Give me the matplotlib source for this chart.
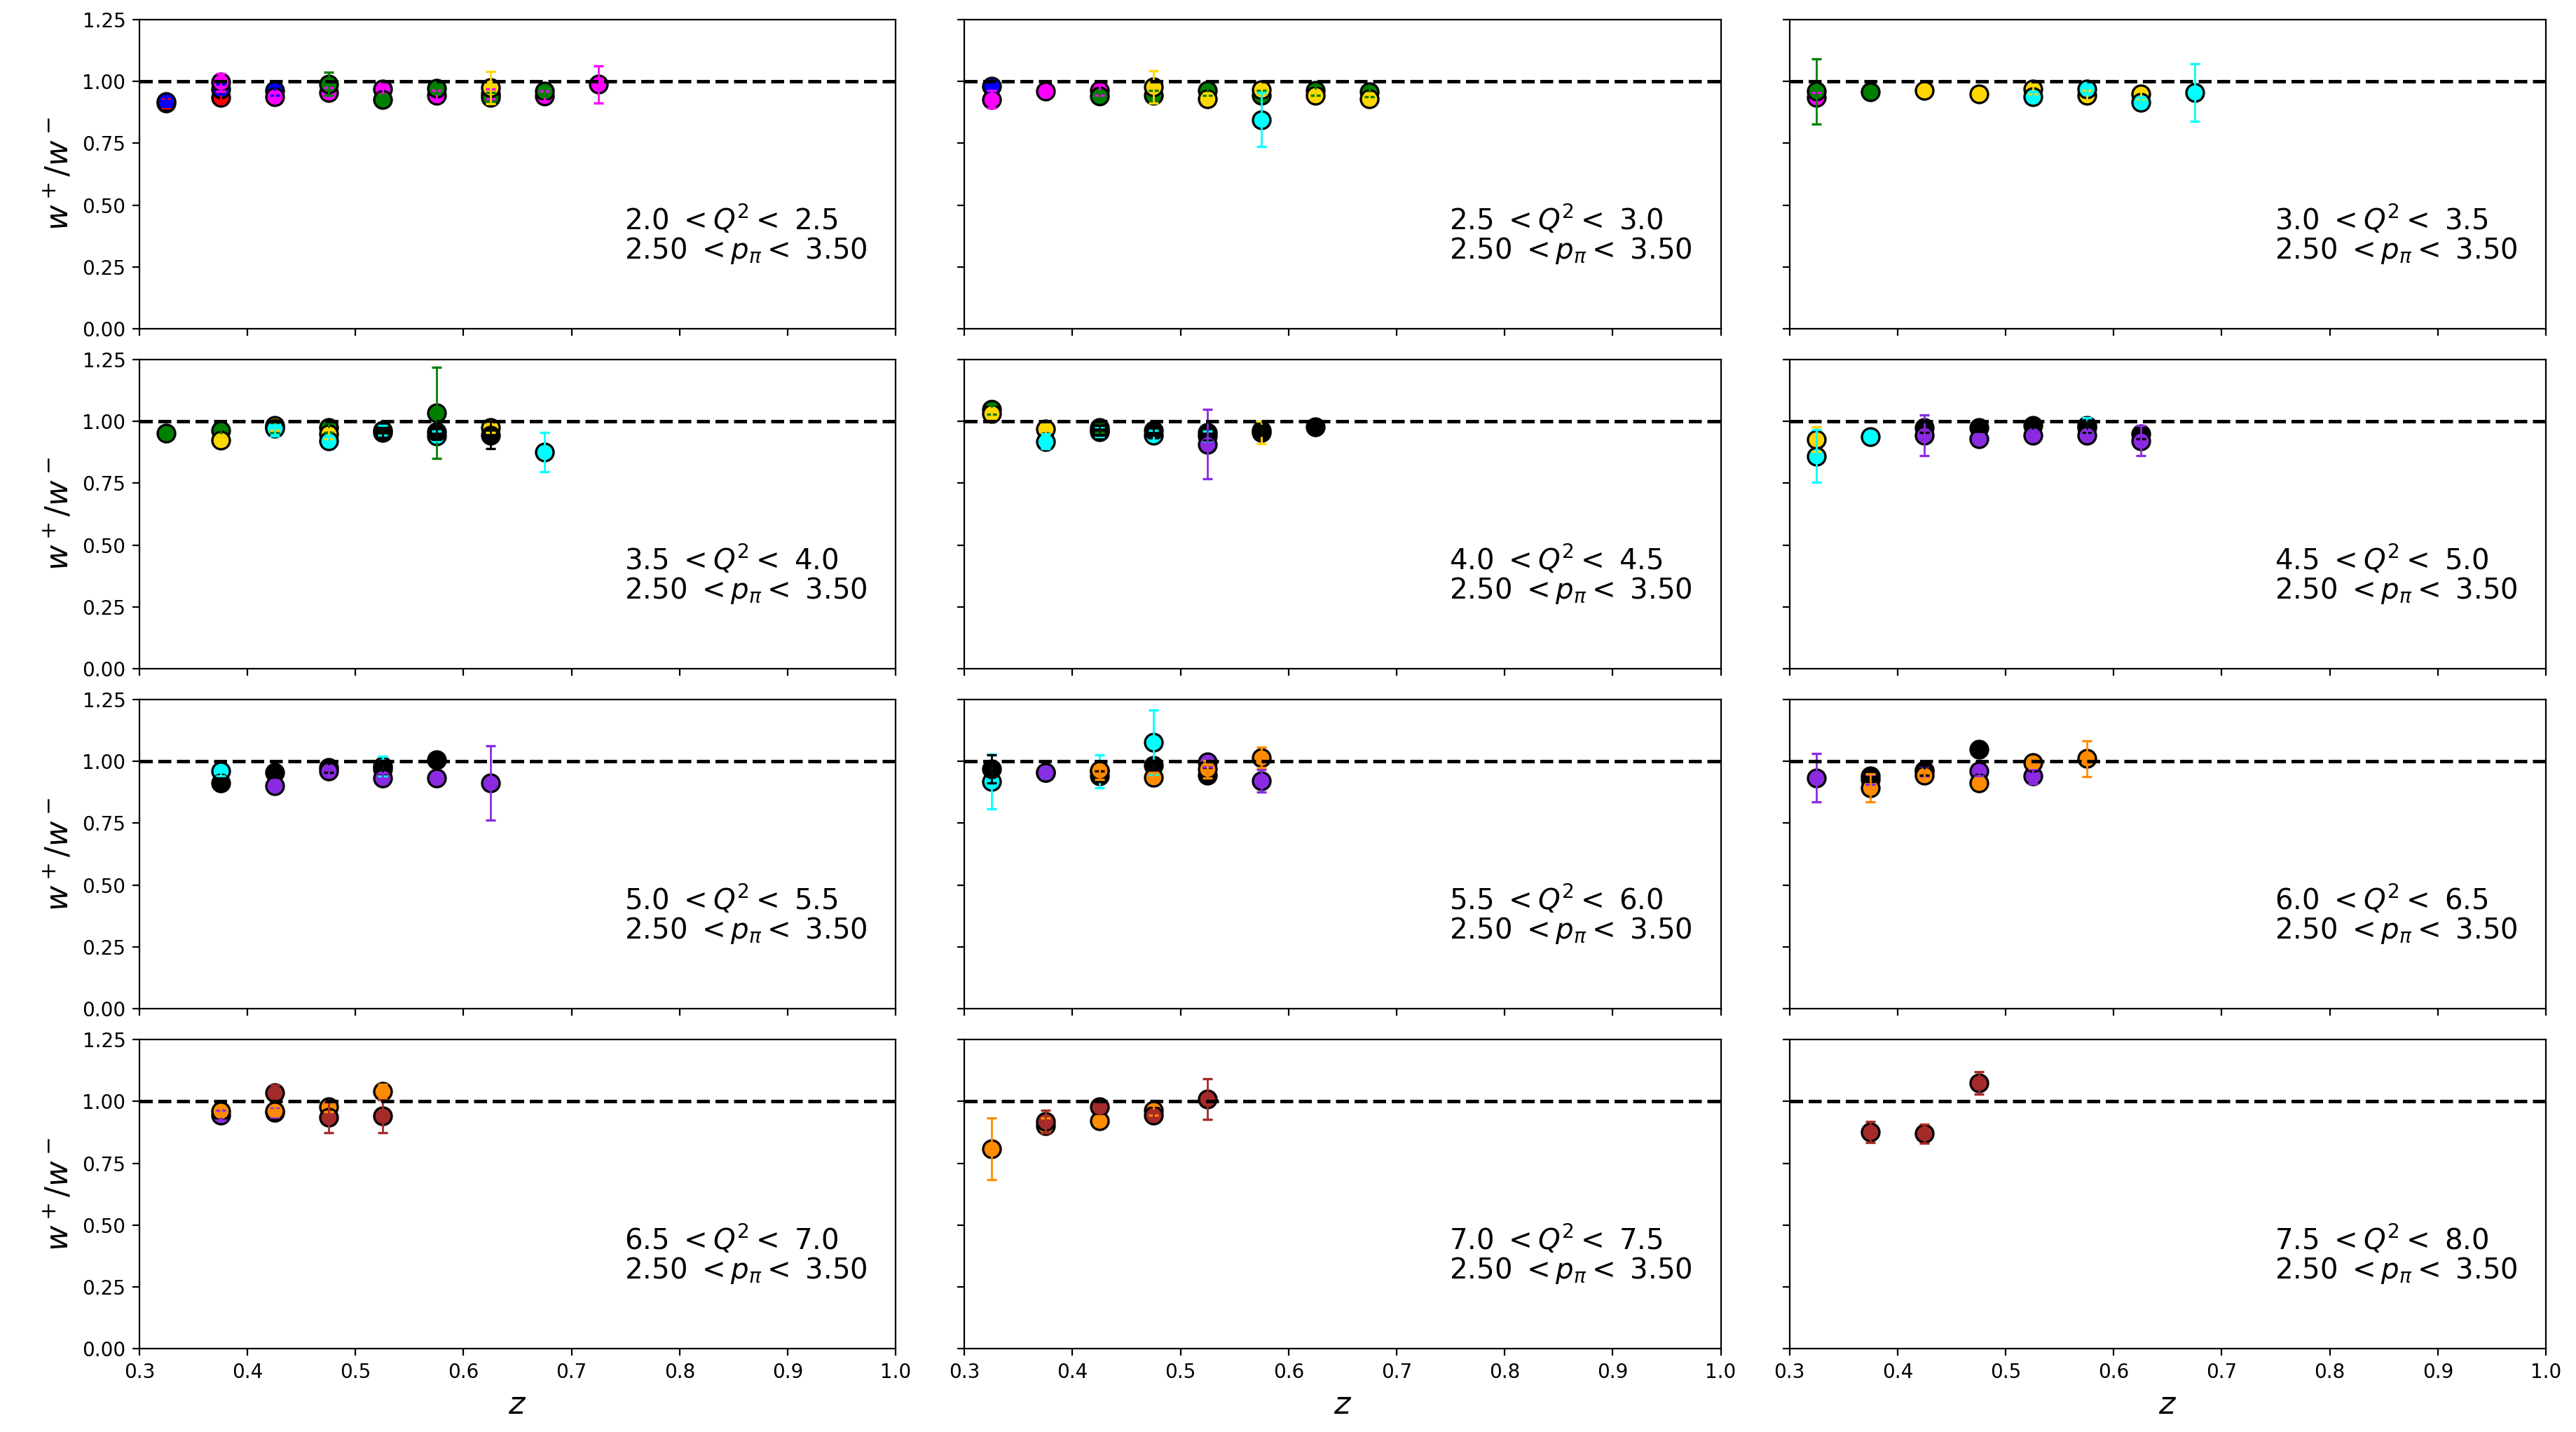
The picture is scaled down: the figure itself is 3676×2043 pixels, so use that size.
import matplotlib
matplotlib.use("Agg")
import matplotlib.pyplot as plt
import numpy as np

# ---------------- data ----------------
q2_low = [2.0, 2.5, 3.0, 3.5, 4.0, 4.5, 5.0, 5.5, 6.0, 6.5, 7.0, 7.5]
q2_high = [2.5, 3.0, 3.5, 4.0, 4.5, 5.0, 5.5, 6.0, 6.5, 7.0, 7.5, 8.0]
p_low = 2.50
p_high = 3.50

series_colors = ['red', 'blue', 'magenta', 'green', 'gold', 'cyan',
                 'black', 'blueviolet', 'darkorange', 'brown']

# each panel: list of (colour, z values, ratio values, errors)
panel1 = [
    ('red', [0.325, 0.375], [0.912, 0.936], [0.02, 0.02]),
    ('blue', [0.325, 0.375, 0.425], [0.919, 0.969, 0.964], [0.02, 0.02, 0.02]),
    ('magenta', [0.375, 0.425, 0.475, 0.525, 0.575, 0.625, 0.675, 0.725],
     [0.997, 0.938, 0.955, 0.969, 0.945, 0.950, 0.940, 0.988],
     [0.035, 0.02, 0.02, 0.02, 0.02, 0.02, 0.02, 0.074]),
    ('green', [0.475, 0.525, 0.575, 0.625, 0.675],
     [0.990, 0.926, 0.972, 0.934, 0.960], [0.047, 0.02, 0.02, 0.02, 0.02]),
    ('gold', [0.625], [0.975], [0.065]),
]
panel2 = [
    ('blue', [0.325], [0.981], [0.02]),
    ('magenta', [0.325, 0.375, 0.425], [0.928, 0.960, 0.965], [0.035, 0.02, 0.02]),
    ('green', [0.425, 0.475, 0.525, 0.575, 0.625, 0.675],
     [0.940, 0.945, 0.964, 0.945, 0.964, 0.957], [0.02] * 6),
    ('gold', [0.475, 0.525, 0.575, 0.625, 0.675],
     [0.978, 0.931, 0.966, 0.945, 0.931], [0.065, 0.02, 0.02, 0.02, 0.02]),
    ('cyan', [0.575], [0.846], [0.11]),
]
panel3 = [
    ('magenta', [0.325], [0.936], [0.02]),
    ('green', [0.325, 0.375], [0.960, 0.957], [0.132, 0.02]),
    ('gold', [0.425, 0.475, 0.525, 0.575, 0.625],
     [0.964, 0.950, 0.969, 0.945, 0.950], [0.02] * 5),
    ('cyan', [0.525, 0.575, 0.625, 0.675],
     [0.938, 0.969, 0.915, 0.955], [0.02, 0.02, 0.02, 0.117]),
]
panel4 = [
    ('green', [0.325, 0.375, 0.425, 0.475, 0.575],
     [0.953, 0.964, 0.975, 0.974, 1.035], [0.02, 0.02, 0.02, 0.02, 0.184]),
    ('gold', [0.375, 0.425, 0.475, 0.625], [0.924, 0.983, 0.950, 0.975], [0.02] * 4),
    ('cyan', [0.425, 0.475, 0.525, 0.575, 0.675],
     [0.971, 0.922, 0.964, 0.940, 0.875], [0.03, 0.02, 0.02, 0.02, 0.079]),
    ('black', [0.525, 0.575, 0.625], [0.955, 0.958, 0.945], [0.02, 0.03, 0.055]),
]
panel5 = [
    ('green', [0.325, 0.425], [1.049, 0.975], [0.02, 0.02]),
    ('gold', [0.325, 0.375, 0.575], [1.032, 0.969, 0.955], [0.02, 0.02, 0.045]),
    ('cyan', [0.375, 0.425, 0.475, 0.525], [0.919, 0.957, 0.945, 0.940], [0.03, 0.02, 0.02, 0.02]),
    ('black', [0.425, 0.475, 0.525, 0.575, 0.625],
     [0.965, 0.964, 0.955, 0.964, 0.978], [0.02, 0.02, 0.03, 0.02, 0.02]),
    ('blueviolet', [0.525], [0.908], [0.14]),
]
panel6 = [
    ('gold', [0.325], [0.928], [0.05]),
    ('cyan', [0.325, 0.375, 0.575], [0.860, 0.938, 0.985], [0.106, 0.02, 0.03]),
    ('black', [0.425, 0.475, 0.525, 0.575, 0.625],
     [0.974, 0.974, 0.983, 0.974, 0.950], [0.02] * 5),
    ('blueviolet', [0.425, 0.475, 0.525, 0.575, 0.625],
     [0.945, 0.931, 0.945, 0.943, 0.922], [0.082, 0.02, 0.02, 0.02, 0.061]),
]
panel7 = [
    ('cyan', [0.375, 0.525], [0.960, 0.980], [0.02, 0.04]),
    ('black', [0.375, 0.425, 0.475, 0.525, 0.575],
     [0.914, 0.955, 0.975, 0.969, 1.007], [0.02] * 5),
    ('blueviolet', [0.425, 0.475, 0.525, 0.575, 0.625],
     [0.903, 0.960, 0.934, 0.934, 0.912], [0.02, 0.02, 0.02, 0.02, 0.15]),
]
panel8 = [
    ('cyan', [0.325, 0.375, 0.425, 0.475], [0.919, 0.955, 0.960, 1.077], [0.11, 0.02, 0.066, 0.13]),
    ('black', [0.325, 0.425, 0.475, 0.525], [0.969, 0.940, 0.983, 0.945], [0.057, 0.02, 0.02, 0.03]),
    ('blueviolet', [0.375, 0.525, 0.575], [0.955, 0.997, 0.922], [0.02, 0.02, 0.045]),
    ('darkorange', [0.425, 0.475, 0.525, 0.575],
     [0.964, 0.936, 0.969, 1.016], [0.037, 0.02, 0.035, 0.042]),
]
panel9 = [
    ('blueviolet', [0.325, 0.375, 0.425, 0.475, 0.525],
     [0.934, 0.928, 0.960, 0.960, 0.940], [0.099, 0.02, 0.02, 0.02, 0.03]),
    ('black', [0.375, 0.425, 0.475], [0.940, 0.965, 1.049], [0.02, 0.02, 0.03]),
    ('darkorange', [0.375, 0.425, 0.475, 0.525, 0.575],
     [0.893, 0.945, 0.914, 0.995, 1.011], [0.058, 0.02, 0.02, 0.02, 0.073]),
]
panel10 = [
    ('blueviolet', [0.375, 0.425], [0.945, 0.955], [0.02, 0.02]),
    ('darkorange', [0.375, 0.425, 0.475, 0.525], [0.960, 0.960, 0.978, 1.040], [0.02, 0.02, 0.02, 0.03]),
    ('brown', [0.425, 0.475, 0.525], [1.035, 0.936, 0.940], [0.03, 0.063, 0.068]),
]
panel11 = [
    ('darkorange', [0.325, 0.375, 0.425, 0.475], [0.808, 0.903, 0.922, 0.964], [0.124, 0.03, 0.02, 0.02]),
    ('brown', [0.375, 0.425, 0.475, 0.525], [0.919, 0.978, 0.945, 1.009], [0.045, 0.02, 0.02, 0.083]),
]
panel12 = [
    ('brown', [0.375, 0.425, 0.475], [0.876, 0.870, 1.075], [0.042, 0.038, 0.046]),
]
panels = [panel1, panel2, panel3, panel4, panel5, panel6,
          panel7, panel8, panel9, panel10, panel11, panel12]

x_ticks = [0.3, 0.4, 0.5, 0.6, 0.7, 0.8, 0.9, 1.0]
y_ticks = [0.0, 0.25, 0.5, 0.75, 1.0, 1.25]

# ---------------- plot ----------------
fig, axes = plt.subplots(4, 3, figsize=(18.38, 10.215), dpi=200,
                         sharex=True, sharey=True)
fig.subplots_adjust(left=0.0541, right=0.9883, top=0.9863, bottom=0.0582,
                    wspace=0.091, hspace=0.1)

for i, ax in enumerate(axes.flat):
    for col, zs, ys, es in panels[i]:
        ax.errorbar(zs, ys, yerr=es, fmt='o', color=col, ecolor=col,
                    mec='black', mew=1.2, ms=9, capsize=2.5, elinewidth=1.0,
                    capthick=1.0, barsabove=True)
    ax.axhline(1.0, color='black', ls='--', lw=1.8)
    ax.set_xlim(0.3, 1.0)
    ax.set_ylim(0.0, 1.25)
    ax.set_xticks(x_ticks)
    ax.set_yticks(y_ticks)
    ax.set_yticklabels([f"{v:.2f}" for v in y_ticks])
    ax.set_xticklabels([f"{v:.1f}" for v in x_ticks])
    ax.tick_params(labelsize=10)
    ax.text(0.641, 0.205,
            f"{q2_low[i]:.1f} $<Q^2<$ {q2_high[i]:.1f}\n{p_low:.2f} $<p_\\pi<$ {p_high:.2f}",
            transform=ax.transAxes, fontsize=14.5, ha='left', va='bottom',
            linespacing=0.95)
    r, c = divmod(i, 3)
    if c == 0:
        ax.set_ylabel("$w^+/w^-$", fontsize=16)
    if r == 3:
        ax.set_xlabel("$z$", fontsize=16)

fig.savefig("out.png", dpi=200)
